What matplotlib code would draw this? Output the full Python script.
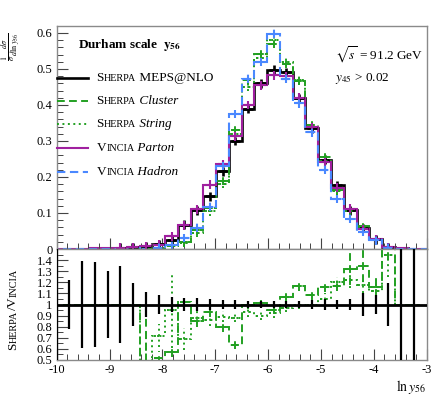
import matplotlib
matplotlib.use('Agg')
import matplotlib.pyplot as plt
from matplotlib.ticker import MultipleLocator, FormatStrFormatter
from matplotlib.offsetbox import TextArea, HPacker, AnnotationBbox
import numpy as np

plt.rcParams['font.family'] = ['Liberation Serif', 'DejaVu Serif']
plt.rcParams['mathtext.fontset'] = 'stix'

# binning: centres from -10 to -3
centers = np.linspace(-10, -3, 30)
width = 7 / 29
edges = np.append(centers - width / 2, centers[-1] + width / 2)

# top panel: 1/sigma dsigma/dln y56
meps = [0, 0.001, 0.001, 0.002, 0.003, 0.004, 0.005, 0.007, 0.013, 0.026,
        0.068, 0.107, 0.146, 0.216, 0.300, 0.390, 0.460, 0.498, 0.491, 0.419,
        0.335, 0.248, 0.178, 0.107, 0.058, 0.027, 0.006, 0.002, 0.001, 0]
cluster = [0, 0, 0, 0, 0, 0, 0, 0.001, 0.003, 0.008,
           0.020, 0.052, 0.114, 0.190, 0.330, 0.470, 0.542, 0.570, 0.514, 0.466,
           0.345, 0.255, 0.163, 0.110, 0.0625, 0.028, 0.006, 0.002, 0.001, 0]
string = [0, 0, 0, 0, 0, 0, 0, 0.001, 0.002, 0.007,
          0.018, 0.045, 0.105, 0.180, 0.320, 0.450, 0.530, 0.580, 0.520, 0.470,
          0.340, 0.245, 0.160, 0.105, 0.060, 0.027, 0.006, 0.002, 0.001, 0]
parton = [0, 0.001, 0.001, 0.002, 0.003, 0.004, 0.005, 0.007, 0.012, 0.035,
          0.066, 0.110, 0.179, 0.236, 0.313, 0.400, 0.454, 0.482, 0.480, 0.420,
          0.338, 0.241, 0.170, 0.112, 0.056, 0.028, 0.006, 0.002, 0.001, 0]
hadron = [0, 0, 0, 0, 0, 0, 0.001, 0.002, 0.004, 0.010,
          0.031, 0.059, 0.118, 0.230, 0.375, 0.473, 0.519, 0.598, 0.473, 0.404,
          0.324, 0.220, 0.139, 0.084, 0.047, 0.024, 0.004, 0.001, 0, 0]

# ratio panel
nan = np.nan
ref_err = [0.6, 0.22, 0.39, 0.38, 0.30, 0.35, 0.19, 0.115, 0.085, 0.068,
           0.055, 0.055, 0.05, 0.04, 0.04, 0.035, 0.03, 0.03, 0.03, 0.035,
           0.04, 0.05, 0.045, 0.05, 0.10, 0.09, 0.19, 0.6, 0.6, nan]
ratio_cluster = [nan, 1, 1, 1, 1, 1, 1, 0.30, 0.52, 0.573,
                 1.02, 0.85, 0.93, 0.80, 0.635, 1.0, 1.01, 0.95, 1.07, 1.165,
                 1.085, 1.16, 1.17, 1.32, 1.35, 1.16, 1.6, 1.0, 1.0, nan]
cluster_err = [0, 0, 0, 0, 0, 0, 0, 0.65, 0.06, 0.05,
               0.05, 0.05, 0.045, 0.045, 0.04, 0.04, 0.035, 0.035, 0.035, 0.04,
               0.04, 0.05, 0.05, 0.14, 0.15, 0.10, 0.2, 0, 0, 0]
ratio_string = [nan, 1, 1, 1, 1, 1, 1, 0.45, 0.72, 0.95,
                0.69, 0.88, 0.86, 0.89, 0.88, 0.93, 0.90, 0.92, 0.97, 1.0,
                1.0, 1.05, 1.20, 1.22, 1.18, 1.12, 1.45, 1.0, 1.0, nan]
string_err = [0, 0, 0, 0, 0, 0, 0, 0.3, 0.1, 0.34,
              0.1, 0.06, 0.05, 0.05, 0.04, 0.04, 0.04, 0.04, 0.04, 0.04,
              0.04, 0.05, 0.05, 0.07, 0.08, 0.10, 0.2, 0, 0, 0]

BLACK = 'black'
GREEN = '#22a022'
PURPLE = '#a0209f'
BLUE = '#4a88ff'
GRAY = '#8a8a8a'
DASH = (0, (4, 2.2))
DOT = (0, (1, 1.8))
CROSS_X = 0.09
CROSS_Y = 0.012

fig = plt.figure(figsize=(4.41, 3.98), dpi=100)
W, H = 441, 398


def fx(px):
    return px / W


def fy(py):
    return 1 - py / H


ax = fig.add_axes([fx(56.7), fy(249), fx(426.7) - fx(56.7), fy(25.7) - fy(249)])
axr = fig.add_axes([fx(56.7), fy(360), fx(426.7) - fx(56.7), fy(249) - fy(360)])

series = [
    (meps, BLACK, '-', 1.9),
    (cluster, GREEN, DASH, 1.4),
    (string, GREEN, DOT, 1.4),
    (parton, PURPLE, '-', 1.5),
    (hadron, BLUE, DASH, 1.5),
]
for vals, col, ls, lw in series:
    v = np.array(vals)
    ax.stairs(v, edges, color=col, linestyle=ls, linewidth=lw, baseline=None)
    m = v > 0.003
    eb = ax.errorbar(centers[m], v[m], yerr=CROSS_Y, xerr=CROSS_X, fmt='none',
                     ecolor=col, elinewidth=lw)
    for lc in eb[2]:
        lc.set_linestyle(ls)

ax.set_xlim(-10, -3)
ax.set_ylim(0, 0.62)
ax.yaxis.set_major_locator(MultipleLocator(0.1))
ax.yaxis.set_minor_locator(MultipleLocator(0.02))
ax.xaxis.set_major_locator(MultipleLocator(1))
ax.xaxis.set_minor_locator(MultipleLocator(0.2))
ax.yaxis.set_major_formatter(FormatStrFormatter('%g'))
ax.tick_params(labelbottom=False)

# ratio panel
axr.stairs(np.ones(len(centers)), edges, color=BLACK, linewidth=2.0, baseline=None, zorder=3)
re = np.array(ref_err)
ok = ~np.isnan(re)
axr.vlines(centers[ok], 1 - re[ok], 1 + re[ok], color=BLACK, linewidth=1.6, zorder=3)

for vals, errs, ls in [(ratio_cluster, cluster_err, DASH),
                       (ratio_string, string_err, DOT)]:
    v = np.array(vals)
    e = np.array(errs)
    axr.stairs(v, edges, color=GREEN, linestyle=ls, linewidth=1.4, baseline=None, zorder=2)
    m = e > 0
    eb = axr.errorbar(centers[m], v[m], yerr=e[m], xerr=CROSS_X, fmt='none',
                      ecolor=GREEN, elinewidth=1.4, zorder=2)
    for lc in eb[2]:
        lc.set_linestyle(ls)

axr.set_xlim(-10, -3)
axr.set_ylim(0.5, 1.5)
axr.set_yticks(np.arange(0.5, 1.45, 0.1))
axr.yaxis.set_minor_locator(MultipleLocator(0.05))
axr.xaxis.set_major_locator(MultipleLocator(1))
axr.xaxis.set_minor_locator(MultipleLocator(0.2))
axr.yaxis.set_major_formatter(FormatStrFormatter('%g'))
axr.xaxis.set_major_formatter(FormatStrFormatter('%g'))

for a in (ax, axr):
    a.tick_params(which='both', direction='in', top=False, right=False,
                  labelsize=9, color='#444444', pad=3)
    a.tick_params(which='major', length=8, width=0.8)
    a.tick_params(which='minor', length=4, width=0.7)
    for s in a.spines.values():
        s.set_color(GRAY)
        s.set_linewidth(1.0)

# legend with small caps built from two font sizes
BIG, SMALL = 9.5, 7.3
leg_rows = [
    (BLACK, '-', 1.9, [('S', BIG, 'normal'), ('HERPA', SMALL, 'normal'), (' MEPS@NLO', BIG, 'normal')]),
    (GREEN, DASH, 1.4, [('S', BIG, 'normal'), ('HERPA', SMALL, 'normal'), (' Cluster', BIG, 'italic')]),
    (GREEN, DOT, 1.4, [('S', BIG, 'normal'), ('HERPA', SMALL, 'normal'), (' String', BIG, 'italic')]),
    (PURPLE, '-', 1.5, [('V', BIG, 'normal'), ('INCIA', SMALL, 'normal'), (' Parton', BIG, 'italic')]),
    (BLUE, DASH, 1.5, [('V', BIG, 'normal'), ('INCIA', SMALL, 'normal'), (' Hadron', BIG, 'italic')]),
]
row_y = [78.3, 100.7, 124.3, 148.3, 171.7]
for (col, ls, lw, pieces), py in zip(leg_rows, row_y):
    fig.add_artist(plt.Line2D([fx(57), fx(88)], [fy(py), fy(py)], color=col,
                              linestyle=ls, linewidth=lw))
    boxes = [TextArea(t, textprops=dict(fontsize=s, fontstyle=st)) for t, s, st in pieces]
    pack = HPacker(children=boxes, align='baseline', pad=0, sep=0)
    ab = AnnotationBbox(pack, (fx(96.5), fy(py)), xycoords='figure fraction',
                        box_alignment=(0, 0.5), frameon=False, pad=0)
    fig.add_artist(ab)

fig.text(fx(78), fy(45), r'Durham scale  $\mathbf{y_{56}}$', fontsize=9.5,
         fontweight='bold', va='center', ha='left')
fig.text(fx(335), fy(55), r'$\sqrt{s}$ = 91.2 GeV', fontsize=9.5, va='center', ha='left')
fig.text(fx(335), fy(78), r'$y_{45}$ > 0.02', fontsize=9.5, va='center', ha='left')

fig.text(fx(11), fy(47), r'$\frac{1}{\sigma}\frac{d\sigma}{d\ln y_{56}}$', fontsize=8.5,
         rotation=90, va='center', ha='center')
fig.text(fx(426), fy(387), r'$\ln y_{56}$', fontsize=10, va='center', ha='right')

# rotated small caps ratio label, pieces chained bottom to top
chain = [('S', BIG), ('HERPA', SMALL), ('/', BIG), ('V', BIG), ('INCIA', SMALL)]
prev = None
for txt, sz in chain:
    if prev is None:
        prev = fig.text(fx(19), fy(350), txt, fontsize=sz, rotation=90,
                        ha='right', va='bottom')
    else:
        prev = axr.annotate(txt, xy=(1, 1), xycoords=prev, fontsize=sz, rotation=90,
                            ha='right', va='bottom', annotation_clip=False)

fig.savefig('out.png', dpi=100)
